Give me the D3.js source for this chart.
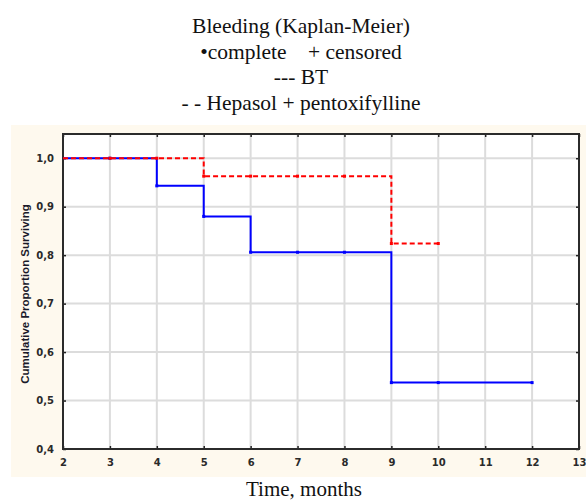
<!DOCTYPE html>
<html>
<head>
<meta charset="utf-8">
<script src="https://cdn.jsdelivr.net/npm/d3@7/dist/d3.min.js"></script>
<style>
  html, body { margin: 0; padding: 0; background: #ffffff; }
  svg { display: block; }
  .serif { font-family: "Liberation Serif", "Times New Roman", serif; }
</style>
</head>
<body>
<svg id="chart" width="586" height="501"></svg>
<script>
// ---- data ----
const titleLines = ["Bleeding (Kaplan-Meier)", "\u2022complete\u00a0\u00a0\u00a0\u00a0+ censored", "--- BT", "- - Hepasol + pentoxifylline"];
const xLabel = "Time, months";
const yLabel = "Cumulative Proportion Surviving";
const xTicks = [2, 3, 4, 5, 6, 7, 8, 9, 10, 11, 12, 13];
const yTicks = [0.4, 0.5, 0.6, 0.7, 0.8, 0.9, 1.0];
const btTimes = [2, 3, 4, 5, 6, 7, 8, 9, 10, 12];
const btSurvival = [1.0, 1.0, 0.943, 0.880, 0.806, 0.806, 0.806, 0.537, 0.537, 0.537];
const hpTimes = [2, 3, 4, 5, 6, 7, 8, 9, 10];
const hpSurvival = [1.0, 1.0, 1.0, 0.963, 0.963, 0.963, 0.963, 0.824, 0.824];

const svg = d3.select("#chart");
const plot = { left: 63, right: 579, top: 134, bottom: 449 };

// background panel
svg.append("rect").attr("x", 11).attr("y", 125).attr("width", 586 - 11).attr("height", 477 - 125)
  .attr("fill", "#fef9ee");
svg.append("rect").attr("x", plot.left).attr("y", plot.top)
  .attr("width", plot.right - plot.left).attr("height", plot.bottom - plot.top)
  .attr("fill", "#ffffff");

const x = d3.scaleLinear().domain([2, 13]).range([plot.left, plot.right]);
const y = d3.scaleLinear().domain([0.4, 1.05]).range([plot.bottom, plot.top]);

// grid
const grid = svg.append("g");
grid.selectAll("line.vx").data(xTicks.slice(1, -1)).join("line")
  .attr("x1", d => x(d)).attr("x2", d => x(d))
  .attr("y1", plot.top).attr("y2", plot.bottom)
  .attr("stroke", "#dcdcdc").attr("stroke-width", 2);
grid.selectAll("line.hy").data(yTicks.slice(1)).join("line")
  .attr("y1", d => y(d)).attr("y2", d => y(d))
  .attr("x1", plot.left).attr("x2", plot.right)
  .attr("stroke", "#dcdcdc").attr("stroke-width", 2);

// axes (ticks inside)
const fmt = d => d3.format(".1f")(d).replace(".", ",");
const gx = svg.append("g").attr("transform", `translate(0,${plot.bottom})`)
  .call(d3.axisBottom(x).tickValues(xTicks).tickFormat(d3.format("d")).tickSizeInner(-3).tickSizeOuter(0).tickPadding(10));
const gy = svg.append("g").attr("transform", `translate(${plot.left},0)`)
  .call(d3.axisLeft(y).tickValues(yTicks).tickFormat(fmt).tickSizeInner(-3).tickSizeOuter(0).tickPadding(9));
const gt = svg.append("g").attr("transform", `translate(0,${plot.top})`)
  .call(d3.axisTop(x).tickValues(xTicks).tickFormat("").tickSizeInner(-3).tickSizeOuter(0));
const gr = svg.append("g").attr("transform", `translate(${plot.right},0)`)
  .call(d3.axisRight(y).tickValues(yTicks).tickFormat("").tickSizeInner(-3).tickSizeOuter(0));
[gx, gy, gt, gr].forEach(g => {
  g.select(".domain").remove();
  g.selectAll(".tick line").attr("stroke", "#222").attr("stroke-width", 1.5);
  g.selectAll(".tick text").attr("fill", "#2a2a2a")
    .attr("font-family", "'DejaVu Sans', Verdana, sans-serif")
    .attr("font-weight", "bold").attr("font-size", "10px");
});

// frame
svg.append("rect").attr("x", plot.left).attr("y", plot.top)
  .attr("width", plot.right - plot.left).attr("height", plot.bottom - plot.top)
  .attr("fill", "none").attr("stroke", "#2b2b2b").attr("stroke-width", 2);

// curves
const stepLine = d3.line().x(d => x(d[0])).y(d => y(d[1])).curve(d3.curveStepAfter);
const bt = btTimes.map((t, i) => [t, btSurvival[i]]);
const hp = hpTimes.map((t, i) => [t, hpSurvival[i]]);

svg.append("path").datum(bt).attr("d", stepLine)
  .attr("fill", "none").attr("stroke", "#0000ff").attr("stroke-width", 2);
svg.selectAll("rect.btm").data(bt.slice(1)).join("rect")
  .attr("x", d => x(d[0]) - 1.5).attr("y", d => y(d[1]) - 1.5)
  .attr("width", 3).attr("height", 3).attr("fill", "#0000ff");

svg.append("path").datum(hp).attr("d", stepLine)
  .attr("fill", "none").attr("stroke", "#ff0000").attr("stroke-width", 2)
  .attr("stroke-dasharray", "5,3");
svg.selectAll("rect.hpm").data(hp.slice(1)).join("rect")
  .attr("x", d => x(d[0]) - 1.5).attr("y", d => y(d[1]) - 1.5)
  .attr("width", 3).attr("height", 3).attr("fill", "#ff0000");

// title
titleLines.forEach((t, i) => {
  svg.append("text").attr("class", "serif")
    .attr("x", 301).attr("y", 33 + i * 25.5)
    .attr("text-anchor", "middle")
    .attr("font-size", "21.5px").attr("fill", "#111")
    .text(t);
});

// axis labels
svg.append("text").attr("class", "serif").attr("x", 304).attr("y", 496).attr("text-anchor", "middle")
  .attr("font-size", "21px").attr("fill", "#111").text(xLabel);
svg.append("text").attr("transform", "translate(29,294) rotate(-90)")
  .attr("text-anchor", "middle")
  .attr("font-family", "'Liberation Sans', Arial, sans-serif")
  .attr("font-weight", "bold").attr("font-size", "11.5px")
  .attr("fill", "#1a1a2a").text(yLabel);
</script>
</body>
</html>
